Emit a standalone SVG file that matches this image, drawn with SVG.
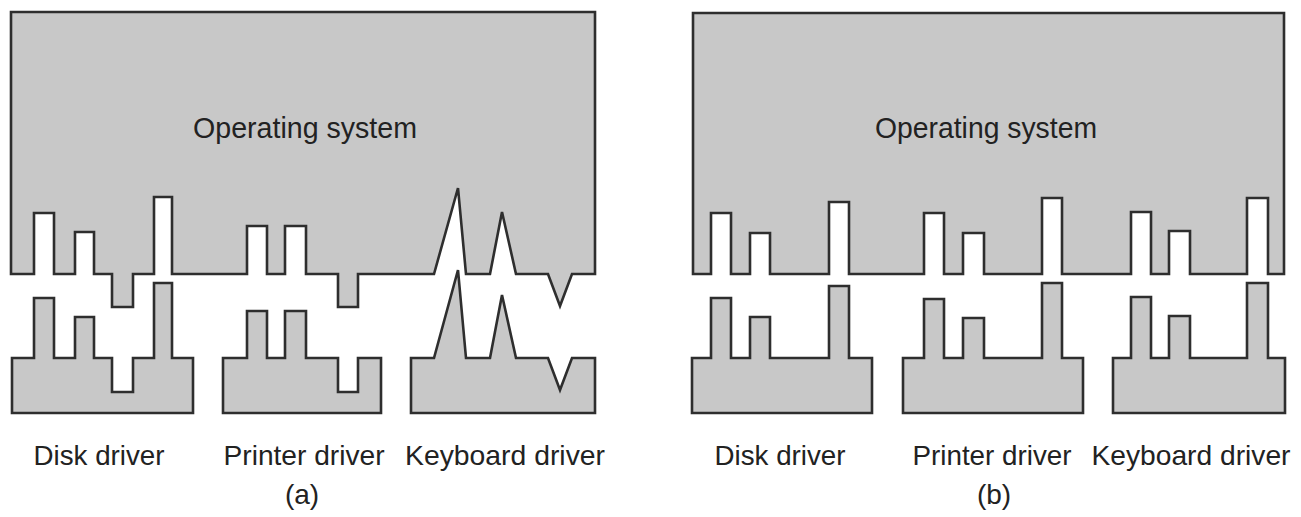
<svg xmlns="http://www.w3.org/2000/svg" width="1301" height="517" viewBox="0 0 1301 517">
<style>
.sh{fill:#c8c8c8;stroke:#2e2e2e;stroke-width:2.6;stroke-linejoin:miter}
.t{font-family:"Liberation Sans",Arial,sans-serif;fill:#222;text-anchor:middle}
.os{font-size:29px}
.lb{font-size:28px}
</style>
<rect width="1301" height="517" fill="#ffffff"/>
<g id="os-a">
<path class="sh" d="M11,12 H595 V274 H572 L560,306 L548,274 H516 L502,212 L490,274 H466 L458,188 L434,274 H358 V307 H338 V274 H306 V226 H285 V274 H267 V226 H247 V274 H172 V197 H154 V274 H133 V307 H112 V274 H94 V232 H75 V274 H54 V213 H34 V274 H11 Z"/>
<text class="t os" x="305" y="138" textLength="224" lengthAdjust="spacingAndGlyphs">Operating system</text>
</g>
<g id="disk-a">
<path class="sh" d="M12,358 H34 V298 H54 V358 H75 V317 H94 V358 H112 V392 H133 V358 H154 V283 H172 V358 H193 V413 H12 Z"/>
<text class="t lb" x="99" y="465" textLength="131" lengthAdjust="spacingAndGlyphs">Disk driver</text>
</g>
<g id="printer-a">
<path class="sh" d="M223,358 H247 V311 H267 V358 H285 V311 H306 V358 H338 V392 H358 V358 H381 V413 H223 Z"/>
<text class="t lb" x="304" y="465" textLength="161" lengthAdjust="spacingAndGlyphs">Printer driver</text>
</g>
<g id="keyboard-a">
<path class="sh" d="M411,358 H434 L458,270 L466,358 H490 L502,295 L516,358 H548 L560,390 L572,358 H595 V413 H411 Z"/>
<text class="t lb" x="505" y="465" textLength="200" lengthAdjust="spacingAndGlyphs">Keyboard driver</text>
</g>
<text class="t lb" x="302" y="504">(a)</text>
<g id="os-b">
<path class="sh" d="M693,13 H1284 V274 H1268 V198 H1247 V274 H1190 V231 H1169 V274 H1151 V212 H1131 V274 H1062 V198 H1042 V274 H984 V233 H963 V274 H944 V213 H924 V274 H849 V202 H829 V274 H770 V233 H750 V274 H731 V213 H711 V274 H693 Z"/>
<text class="t os" x="986" y="138" textLength="222" lengthAdjust="spacingAndGlyphs">Operating system</text>
</g>
<g id="disk-b">
<path class="sh" d="M692,358 H711 V298 H731 V358 H750 V317 H770 V358 H829 V286 H849 V358 H872 V413 H692 Z"/>
<text class="t lb" x="780" y="465" textLength="131" lengthAdjust="spacingAndGlyphs">Disk driver</text>
</g>
<g id="printer-b">
<path class="sh" d="M903,358 H924 V299 H944 V358 H963 V318 H984 V358 H1042 V283 H1062 V358 H1083 V413 H903 Z"/>
<text class="t lb" x="992" y="465" textLength="159" lengthAdjust="spacingAndGlyphs">Printer driver</text>
</g>
<g id="keyboard-b">
<path class="sh" d="M1113,358 H1131 V297 H1151 V358 H1169 V316 H1190 V358 H1247 V283 H1268 V358 H1285 V413 H1113 Z"/>
<text class="t lb" x="1191" y="465" textLength="199" lengthAdjust="spacingAndGlyphs">Keyboard driver</text>
</g>
<text class="t lb" x="994" y="504">(b)</text>
<g id="connectors"/>
</svg>
